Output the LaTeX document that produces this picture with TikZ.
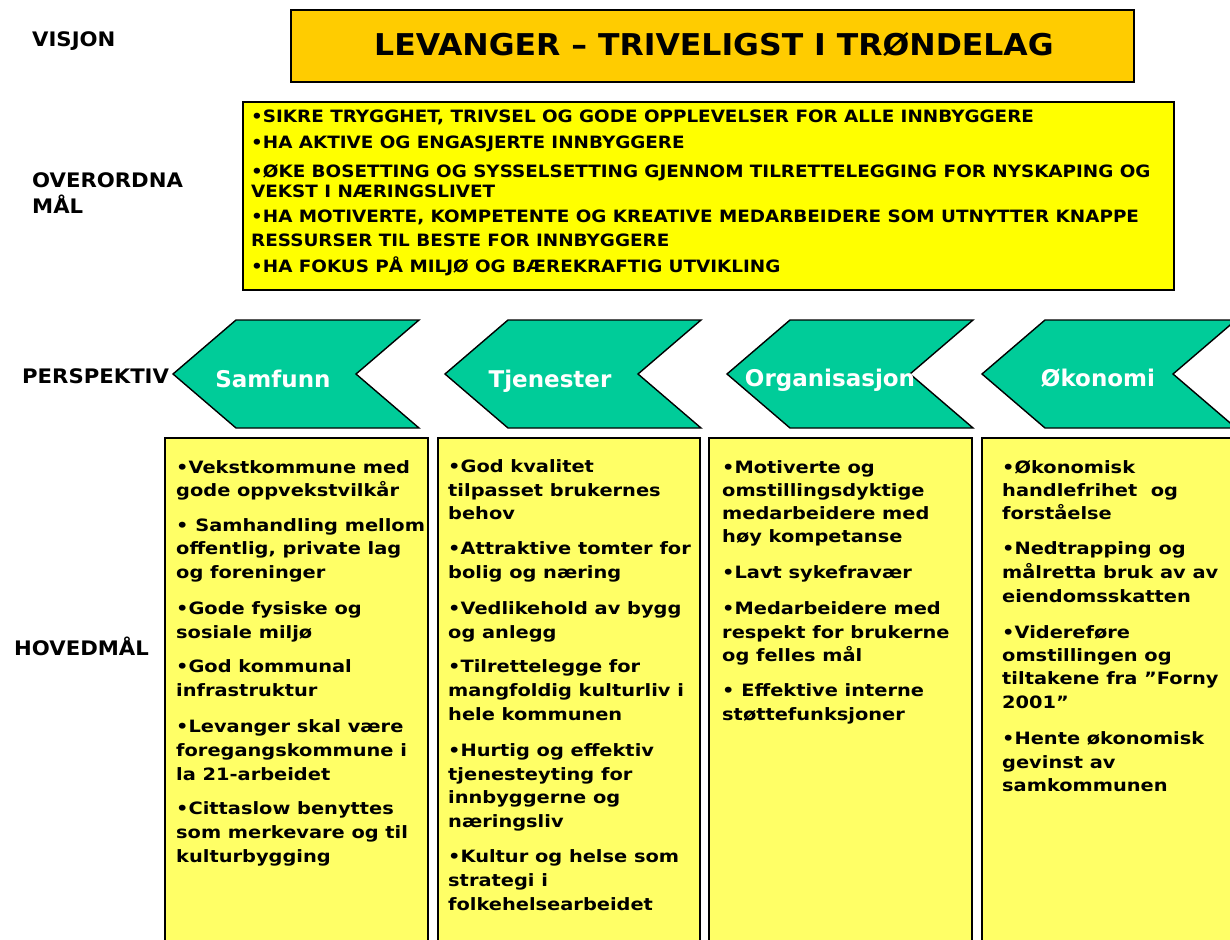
\documentclass[tikz,border=0pt]{standalone}
\usepackage{fontspec}
\setmainfont{DejaVu Sans}
\newfontfamily\lblfont{DejaVu Sans}[FakeStretch=1.06]
\newfontfamily\goalfont{DejaVu Sans}[FakeStretch=1.08]
\newfontfamily\colfont{DejaVu Sans}[FakeStretch=1.14]
\newfontfamily\titlefont{DejaVu Sans}[FakeStretch=1.05]
\definecolor{titlefill}{HTML}{FFCC00}
\definecolor{goalfill}{HTML}{FFFF00}
\definecolor{colfill}{HTML}{FFFF66}
\definecolor{chevfill}{HTML}{00CC99}
\begin{document}
\begin{tikzpicture}[x=1pt,y=-1pt,
  boxline/.style={draw=black, line width=1.6pt},
  lbl/.style={font=\lblfont\fontsize{20}{24}\selectfont\bfseries, anchor=base west, inner sep=0pt},
  goaltext/.style={font=\goalfont\fontsize{17}{20}\selectfont\bfseries, anchor=base west, inner sep=0pt},
  coltext/.style={font=\colfont\fontsize{17}{20}\selectfont\bfseries, anchor=base west, inner sep=0pt},
  chevtext/.style={font=\fontsize{23}{27}\selectfont\bfseries, text=white, anchor=base, inner sep=0pt},
  titletext/.style={font=\titlefont\fontsize{30}{34}\selectfont\bfseries, anchor=base, inner sep=0pt},
  chevshape/.style={draw=black, line width=1.4pt, fill=chevfill, line join=miter}]
\useasboundingbox (0,0) rectangle (1230,939);
\clip (0,0) rectangle (1230,939);

% left labels
\node[lbl] (visjon) at (32,47) {VISJON};
\node[lbl] (overordna) at (32,187) {OVERORDNA};
\node[lbl] (maal) at (32,213) {MÅL};
\node[lbl] (perspektiv) at (22,383) {PERSPEKTIV};
\node[lbl] (hovedmaal) at (14,655) {HOVEDMÅL};

% vision box
\draw[boxline, fill=titlefill] (291,10) rectangle (1134,82);
\node[titletext] (title) at (714,56) {LEVANGER – TRIVELIGST I TRØNDELAG};

% overall goals box
\draw[boxline, fill=goalfill] (243,102) rectangle (1174,290);
\node[goaltext] (g1) at (251,123) {•SIKRE TRYGGHET, TRIVSEL OG GODE OPPLEVELSER FOR ALLE INNBYGGERE};
\node[goaltext] (g2) at (251,148) {•HA AKTIVE OG ENGASJERTE INNBYGGERE};
\node[goaltext] (g3) at (251,177) {•ØKE BOSETTING OG SYSSELSETTING GJENNOM TILRETTELEGGING FOR NYSKAPING OG};
\node[goaltext] (g4) at (251,197) {VEKST I NÆRINGSLIVET};
\node[goaltext] (g5) at (251,222) {•HA MOTIVERTE, KOMPETENTE OG KREATIVE MEDARBEIDERE SOM UTNYTTER KNAPPE};
\node[goaltext] (g6) at (251,246) {RESSURSER TIL BESTE FOR INNBYGGERE};
\node[goaltext] (g7) at (251,272) {•HA FOKUS PÅ MILJØ OG BÆREKRAFTIG UTVIKLING};

% chevrons
\foreach \xt/\xr in {173/419, 445/701, 727/973, 982/1236}{
  \draw[chevshape] (\xt,374) -- (\xt+63,320) -- (\xr,320) -- (\xr-63,374) -- (\xr,428) -- (\xt+63,428) -- cycle;
}
\node[chevtext] (samfunn) at (273,387) {Samfunn};
\node[chevtext] (tjenester) at (550,387) {Tjenester};
\node[chevtext] (organisasjon) at (830,386) {Organisasjon};
\node[chevtext] (okonomi) at (1098,386) {Økonomi};

% columns
\draw[boxline, fill=colfill] (165,438) rectangle (428,960);
\draw[boxline, fill=colfill] (438,438) rectangle (700,960);
\draw[boxline, fill=colfill] (709,438) rectangle (972,960);
\draw[boxline, fill=colfill] (982,438) rectangle (1245,960);

% column 1
\foreach \y/\t [count=\i] in {
  473/{•Vekstkommune med}, 496/{gode oppvekstvilkår},
  531/{• Samhandling mellom}, 554/{offentlig, private lag}, 578/{og foreninger},
  614/{•Gode fysiske og}, 638/{sosiale miljø},
  672/{•God kommunal}, 696/{infrastruktur},
  732/{•Levanger skal være}, 756/{foregangskommune i}, 780/{la 21-arbeidet},
  814/{•Cittaslow benyttes}, 838/{som merkevare og til}, 862/{kulturbygging}}
  \node[coltext] (ca\i) at (176,\y) {\t};

% column 2
\foreach \y/\t [count=\i] in {
  472/{•God kvalitet}, 496/{tilpasset brukernes}, 519/{behov},
  554/{•Attraktive tomter for}, 578/{bolig og næring},
  614/{•Vedlikehold av bygg}, 638/{og anlegg},
  672/{•Tilrettelegge for}, 696/{mangfoldig kulturliv i}, 720/{hele kommunen},
  756/{•Hurtig og effektiv}, 780/{tjenesteyting for}, 803/{innbyggerne og}, 827/{næringsliv},
  862/{•Kultur og helse som}, 886/{strategi i}, 910/{folkehelsearbeidet}}
  \node[coltext] (cb\i) at (448,\y) {\t};

% column 3
\foreach \y/\t [count=\i] in {
  473/{•Motiverte og}, 496/{omstillingsdyktige}, 519/{medarbeidere med}, 542/{høy kompetanse},
  578/{•Lavt sykefravær},
  614/{•Medarbeidere med}, 638/{respekt for brukerne}, 661/{og felles mål},
  696/{• Effektive interne}, 720/{støttefunksjoner}}
  \node[coltext] (cc\i) at (722,\y) {\t};

% column 4
\foreach \y/\t [count=\i] in {
  473/{•Økonomisk}, 496/{handlefrihet\ \ og}, 519/{forståelse},
  554/{•Nedtrapping og}, 578/{målretta bruk av av}, 602/{eiendomsskatten},
  638/{•Videreføre}, 661/{omstillingen og}, 684/{tiltakene fra ”Forny}, 708/{2001”},
  744/{•Hente økonomisk}, 768/{gevinst av}, 791/{samkommunen}}
  \node[coltext] (cd\i) at (1002,\y) {\t};
\end{tikzpicture}
\end{document}
